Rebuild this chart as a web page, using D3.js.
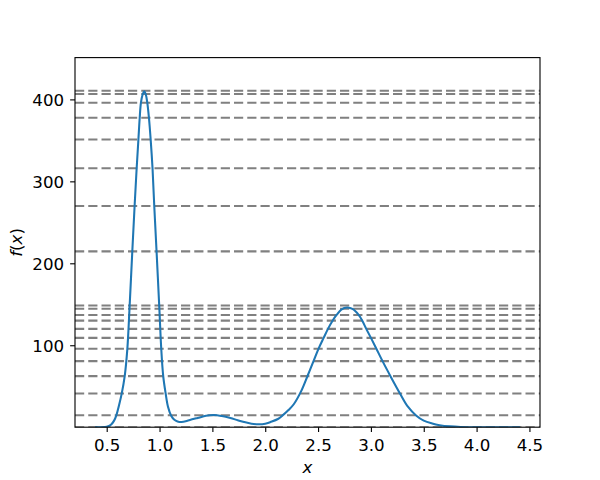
<!DOCTYPE html>
<html>
<head>
<meta charset="utf-8">
<script src="https://cdn.jsdelivr.net/npm/d3@7"></script>
<style>
  body { margin: 0; background: #fff; }
  text { font-family: "DejaVu Sans", sans-serif; }
</style>
</head>
<body>
<div id="chart"></div>
<script>
// curve
let curveX = [0.40, 0.45, 0.50, 0.54, 0.57, 0.591, 0.615, 0.642, 0.67, 0.695, 0.717, 0.742, 0.764, 0.783, 0.80, 0.812, 0.824, 0.84, 0.855,
    0.87, 0.884, 0.90, 0.916, 0.934, 0.95, 0.972, 0.997, 1.016, 1.035, 1.058, 1.08, 1.11, 1.14, 1.17, 1.207, 1.28, 1.36, 1.44, 1.515,
    1.59, 1.67, 1.74, 1.80, 1.87, 1.937, 2.00, 2.05, 2.12, 2.17, 2.22, 2.27, 2.34, 2.40, 2.457, 2.505, 2.553, 2.594, 2.64, 2.675, 2.72,
    2.775, 2.83, 2.884, 2.916, 2.956, 3.00, 3.047, 3.11, 3.185, 3.275, 3.35, 3.43, 3.50, 3.58, 3.65, 3.75, 3.85, 4.00, 4.40];
let curveY = [0, 0, 0.5, 3, 8, 14.5, 26, 41, 62, 95, 148, 214, 270, 315, 351, 377, 396, 406, 410,
    406, 396, 377, 351, 315, 270, 214, 148, 96, 62, 41, 25, 14, 9, 7, 6.3, 8.5, 11.2, 14, 14.9,
    13.6, 11.2, 8.5, 6.3, 4.3, 3.5, 4.2, 6.3, 10, 15, 21, 28, 44, 62.5, 80.6, 95.8, 109, 120, 130.5, 137, 143.5,
    146, 144, 137, 130.5, 120, 109, 97, 80.6, 62.3, 41.2, 25, 14, 8, 4.5, 2.5, 1, 0.3, 0, 0];
// dashed horizontal levels
let levels = [410.5, 406.5, 396, 377.5, 351, 316, 270, 214.5,
    148.5, 144.5, 137, 130, 120, 109, 95.8, 80.6, 62.3, 41.2, 14.5, 0];
let xTicks = [0.5, 1.0, 1.5, 2.0, 2.5, 3.0, 3.5, 4.0, 4.5];
let yTicks = [100, 200, 300, 400];

let width = 600;
let height = 480;
let margin = ({ top: 57.6, right: 60, bottom: 52.8, left: 75 });
let fontSize = 16.67;
let tickLen = 4.86;

const svg = d3.select("#chart").append("svg")
    .attr("width", width)
    .attr("height", height);

let x = d3.scaleLinear()
    .domain([0.2, 4.6])
    .range([margin.left, width - margin.right]);
let y = d3.scaleLinear()
    .domain([0, 451])
    .range([height - margin.bottom, margin.top]);

svg.append("clipPath").attr("id", "clip")
    .append("rect")
    .attr("x", margin.left)
    .attr("y", margin.top)
    .attr("width", width - margin.left - margin.right)
    .attr("height", height - margin.top - margin.bottom);

const plot = svg.append("g").attr("clip-path", "url(#clip)");

plot.selectAll("line.level")
    .data(levels)
    .join("line")
    .attr("class", "level")
    .attr("x1", margin.left)
    .attr("x2", width - margin.right)
    .attr("y1", d => y(d))
    .attr("y2", d => y(d))
    .attr("stroke", "#808080")
    .attr("stroke-width", 2.08)
    .attr("stroke-dasharray", "9.2,4.05");

let line = d3.line()
    .x(d => x(d[0]))
    .y(d => y(d[1]))
    .curve(d3.curveCatmullRom.alpha(0.5));

plot.append("path")
    .datum(curveX.map((v, i) => [v, curveY[i]]))
    .attr("fill", "none")
    .attr("stroke", "#1f77b4")
    .attr("stroke-width", 2.08)
    .attr("stroke-linejoin", "round")
    .attr("stroke-linecap", "square")
    .attr("d", line);

// axes
svg.append("g")
    .attr("transform", `translate(0,${height - margin.bottom})`)
    .call(d3.axisBottom(x).tickValues(xTicks).tickFormat(d3.format(".1f"))
        .tickSizeOuter(0).tickSize(tickLen).tickPadding(7.1))
    .call(g => g.select(".domain").remove())
    .call(g => g.selectAll(".tick line").attr("stroke", "#000").attr("stroke-width", 1.11))
    .call(g => g.selectAll(".tick text").attr("fill", "#000")
        .attr("font-size", fontSize).attr("font-family", "DejaVu Sans"));

svg.append("g")
    .attr("transform", `translate(${margin.left},0)`)
    .call(d3.axisLeft(y).tickValues(yTicks).tickFormat(d3.format("d"))
        .tickSizeOuter(0).tickSize(tickLen).tickPadding(6))
    .call(g => g.select(".domain").remove())
    .call(g => g.selectAll(".tick line").attr("stroke", "#000").attr("stroke-width", 1.11))
    .call(g => g.selectAll(".tick text").attr("fill", "#000").attr("dy", "0.37em")
        .attr("font-size", fontSize).attr("font-family", "DejaVu Sans"));

// frame
svg.append("rect")
    .attr("x", margin.left)
    .attr("y", margin.top)
    .attr("width", width - margin.left - margin.right)
    .attr("height", height - margin.top - margin.bottom)
    .attr("fill", "none")
    .attr("stroke", "#000")
    .attr("stroke-width", 1.11);

// labels
svg.append("text")
    .attr("x", (margin.left + width - margin.right) / 2)
    .attr("y", 472.5)
    .attr("text-anchor", "middle")
    .attr("font-size", fontSize)
    .attr("font-style", "italic")
    .text("x");

let ylab = svg.append("text")
    .attr("transform", `translate(22,${(margin.top + height - margin.bottom) / 2}) rotate(-90)`)
    .attr("text-anchor", "middle")
    .attr("font-size", fontSize);
ylab.append("tspan").attr("font-style", "italic").text("f");
ylab.append("tspan").text("(");
ylab.append("tspan").attr("font-style", "italic").text("x");
ylab.append("tspan").text(")");
</script>
</body>
</html>
